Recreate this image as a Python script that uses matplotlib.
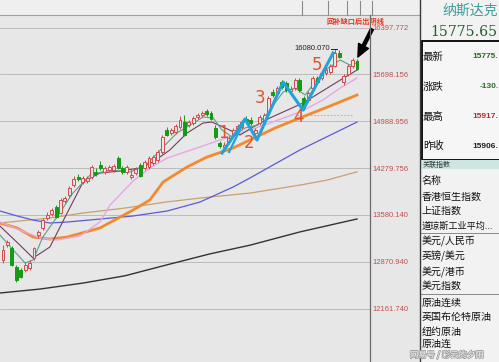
import numpy as np
import matplotlib.pyplot as plt
from matplotlib.patches import Rectangle
import matplotlib.patheffects as pe

plt.rcParams['font.family'] = ['Noto Sans CJK SC', 'DejaVu Sans']

# daily candles (index = trading day)
opens = [12897, 13123, 13078, 12792, 12746, 12746, 12777, 12927, 13274, 13379,
         13530, 13590, 13695, 13605, 13786, 13876, 14027, 14147, 14072, 14087,
         14147, 14222, 14328, 14222, 14252, 14252, 14433, 14283, 14222, 14147,
         14207, 14328, 14283, 14298, 14358, 14403, 14524, 14855, 14810, 14825,
         14900, 14975, 14930, 14960, 15051, 15081, 15141, 15111, 14885, 14659,
         14599, 14674, 14780, 14840, 14900, 15021, 15005, 14810, 14960, 15005,
         15126, 15427, 15412, 15578, 15563, 15442, 15487, 15608, 15337, 15307,
         15487, 15638, 15638, 15713, 15728, 15819, 16014, 15578, 15698, 15819,
         15900]
closes = [13048, 13168, 12822, 12596, 12641, 12822, 12852, 13078, 13319, 13499,
          13575, 13650, 13545, 13801, 13831, 13981, 14117, 14117, 14132, 14132,
          14298, 14192, 14283, 14283, 14298, 14313, 14283, 14222, 14298, 14177,
          14268, 14162, 14373, 14433, 14448, 14524, 14749, 14780, 14855, 14915,
          15005, 14780, 14975, 15036, 15081, 15111, 15096, 15021, 14749, 14614,
          14629, 14734, 14855, 14915, 14975, 14990, 14960, 14855, 15051, 15081,
          15337, 15382, 15487, 15502, 15457, 15472, 15608, 15457, 15186, 15412,
          15638, 15578, 15713, 15758, 15819, 16014, 15954, 15668, 15819, 15906,
          15775.65]
highs = [13123, 13198, 13108, 12822, 12777, 12867, 12897, 13093, 13349, 13530,
         13620, 13680, 13725, 13831, 13861, 14011, 14162, 14192, 14162, 14162,
         14328, 14283, 14388, 14313, 14328, 14343, 14463, 14313, 14328, 14252,
         14298, 14358, 14403, 14463, 14478, 14554, 14780, 14900, 14885, 14945,
         15066, 15081, 15005, 15066, 15111, 15141, 15171, 15141, 14930, 14689,
         14674, 14764, 14885, 14945, 15005, 15066, 15051, 14885, 15081, 15111,
         15367, 15472, 15517, 15608, 15593, 15517, 15638, 15638, 15367, 15442,
         15668, 15668, 15743, 15819, 15849, 16080.07, 16060, 15698, 15849, 15939,
         15917]
lows = [12852, 13093, 12807, 12566, 12626, 12716, 12746, 12897, 13228, 13349,
        13499, 13560, 13530, 13590, 13755, 13846, 13996, 14087, 14042, 14057,
        14117, 14162, 14252, 14192, 14222, 14222, 14268, 14192, 14192, 14117,
        14177, 14147, 14252, 14268, 14328, 14373, 14493, 14764, 14780, 14795,
        14870, 14764, 14900, 14930, 15021, 15051, 15066, 15005, 14719, 14584,
        14554, 14644, 14749, 14810, 14870, 14960, 14930, 14780, 14930, 14975,
        15096, 15352, 15382, 15472, 15427, 15412, 15457, 15427, 15156, 15277,
        15457, 15548, 15608, 15683, 15698, 15804, 15939, 15533, 15668, 15789,
        15758]

# moving averages
ma5_x = [-0.7, 2.3, 5, 6.8, 9, 12.2, 15.8, 19.7, 24.2, 28.7, 32.1, 36.2, 39.3, 42.3, 45.2,
         47.5, 49.5, 51.8, 54.7, 57.6, 60.3, 63.3, 66, 68.3, 70.5, 73.5, 76.2, 78.4, 80]
ma5 = [13274, 13048, 12852, 12897, 13243, 13545, 13906, 14177, 14252, 14222, 14313, 14599, 14810, 14930, 15051,
       15036, 14855, 14749, 14885, 14930, 15156, 15427, 15487, 15382, 15578, 15789, 15909, 15834, 15864]
ma10_x = [-0.7, 3.8, 6.8, 10.6, 14.5, 18.1, 21.9, 26.4, 31, 33.9, 37.7, 41.6, 45.2, 47.2, 50.2,
          53.6, 56.5, 60.3, 67.8, 75.5, 80]
ma10 = [13409, 13123, 12927, 13093, 13605, 14072, 14207, 14237, 14283, 14373, 14554, 14810, 14960, 14975, 14885,
        14780, 14900, 15036, 15261, 15578, 15758]
ma20_x = [-0.7, 3.8, 8.4, 12.2, 17.4, 21.9, 24.2, 29.4, 33.2, 37.1, 44.5, 49, 55.8, 60.3, 67.1, 72.3, 76.2, 80]
ma20 = [13469, 13349, 13228, 13198, 13258, 13469, 13725, 14087, 14283, 14433, 14599, 14704, 14855, 14960,
        15126, 15307, 15487, 15638]
ma30_x = [-0.7, 3.2, 6.8, 10.6, 14.5, 21.9, 29.4, 33.2, 36.2, 41.6, 46.1, 52, 55.8, 61.5, 67.1, 73.9, 80]
ma30 = [13454, 13379, 13243, 13213, 13243, 13379, 13650, 13801, 14072, 14298, 14448, 14584, 14704, 14885,
        15036, 15216, 15382]
ma60_x = [-0.7, 3.2, 6.8, 10.6, 14.5, 21.9, 29.4, 37.1, 44.5, 52, 55.8, 67.1, 80]
ma60 = [13635, 13560, 13499, 13454, 13469, 13514, 13560, 13635, 13770, 13996, 14132, 14554, 14975]
ma120_x = [-0.7, 10.6, 18.1, 27.6, 36.8, 44.5, 55.8, 67.1, 73.2, 80]
ma120 = [13455, 13530, 13605, 13680, 13770, 13830, 13905, 14025, 14100, 14225]
ma250_x = [-0.7, 8.4, 18.1, 27.6, 36.8, 46.8, 55.8, 67.1, 80]
ma250 = [12400, 12460, 12550, 12660, 12820, 12990, 13120, 13320, 13515]

# hand drawn wave count
wave_x = [49.5, 54.7, 57.4, 63.3, 67.8, 74.6]
wave_y = [14508, 15020, 14704, 15578, 15156, 16014]
wave2_x = [51.1, 54.7]
wave2_y = [14524, 15020]
wave_labels = ['1', '2', '3', '4', '5']
wave_lab_x = [49.9, 55.6, 58.1, 66.7, 70.9]
wave_lab_y = [14810, 14660, 15337, 15051, 15834]

tick_vals = [16397.772, 15698.156, 14988.956, 14279.756, 13580.140, 12870.940, 12161.740]
tick_labels = ['%.3f' % v for v in tick_vals]

W, H = 499, 362
BG = '#e7e7e7'
fig = plt.figure(figsize=(W / 100, H / 100), dpi=100)
fig.patch.set_facecolor(BG)

ax = fig.add_axes([0, 0, 370 / W, 347 / H])
ax.set_facecolor(BG)
ax.set_xlim(-0.68, 82.94)
ax.set_ylim(11361, 16587)
for s in ax.spines.values():
    s.set_visible(False)
ax.set_xticks([])
ax.yaxis.tick_right()
ax.set_yticks(tick_vals)
ax.set_yticklabels(tick_labels, fontsize=5.5, color='#c0504d', family='Liberation Sans')
ax.tick_params(axis='y', length=0, pad=2)
for v in tick_vals:
    ax.axhline(v, color='#b4b4b4', lw=0.6, zorder=0)

# moving averages
ax.plot(ma250_x, ma250, color='#333333', lw=1.0, zorder=2)
ax.plot(ma120_x, ma120, color='#c9a06e', lw=0.9, zorder=2)
ax.plot(ma60_x, ma60, color='#5b5bd6', lw=0.9, zorder=2)
ax.plot(ma30_x, ma30, color='#f28a2e', lw=2.0, zorder=2)
ax.plot(ma20_x, ma20, color='#e6a6e6', lw=1.0, zorder=2)
ax.plot(ma10_x, ma10, color='#6e3f62', lw=0.8, zorder=2)
ax.plot(ma5_x, ma5, color='#5a9e88', lw=0.8, zorder=2)

# candles
for i in range(len(opens)):
    o, c, h, l = opens[i], closes[i], highs[i], lows[i]
    up = c >= o
    col = '#d24b4b' if up else '#149a14'
    ax.vlines(i, l, h, color=col, lw=0.7, zorder=3)
    ax.add_patch(Rectangle((i - 0.33, min(o, c)), 0.66, max(abs(c - o), 8),
                           facecolor=BG if up else col, edgecolor=col, lw=0.7, zorder=4))

# wave count
ax.plot(wave_x, wave_y, color='#1fa3d8', lw=2.2, zorder=5)
ax.plot(wave2_x, wave2_y, color='#1fa3d8', lw=1.6, zorder=5)
for t, x, y in zip(wave_labels, wave_lab_x, wave_lab_y):
    ax.text(x, y, t, color='#e0542c', fontsize=12, family='DejaVu Sans',
            ha='center', va='center', zorder=6)

# peak label and annotation
ax.text(73.9, 16080.07, '16080.070', ha='right', va='center', fontsize=5.5,
        family='Liberation Sans', color='#222222', zorder=6)
ax.plot([74.1, 75.4], [16080.07, 16080.07], color='#222222', lw=0.7, zorder=6)
ax.plot([66.4, 79.1], [15081, 15081], color='#a8a8a8', lw=0.6, ls=(0, (2, 2)), zorder=1)
ax.text(73.2, 16496, '回补缺口后出阴线', ha='left', va='center', fontsize=5.2,
        fontweight='bold', color='#e8341c', zorder=7, clip_on=False)
ax.annotate('', xy=(80.2, 15954), xytext=(83.4, 16376), annotation_clip=False,
            arrowprops=dict(facecolor='black', edgecolor='black', width=2.2,
                            headwidth=8, headlength=9, shrink=0), zorder=7)

# overlay for the terminal frame and the quote panel
ov = fig.add_axes([0, 0, 1, 1])
ov.set_xlim(0, W)
ov.set_ylim(H, 0)
ov.axis('off')
ov.patch.set_alpha(0)

ov.add_patch(Rectangle((0, 0), 420, 15, fc='#efefef', ec='none'))
ov.plot([0, 420], [15, 15], color='#a0a0a0', lw=0.8)
for x in [302, 328, 347, 360, 372]:
    ov.plot([x, x], [1, 15], color='#8a8a8a', lw=0.8)
ov.plot([370, 370], [15, H], color='#6a6a6a', lw=0.9)

ov.add_patch(Rectangle((421, 0), 78, H, fc='#f2f2f2', ec='none'))
ov.plot([420.5, 420.5], [0, H], color='#3a3a3a', lw=1.0)
ov.text(442, 11, '纳斯达克', color='#3d9e9a', fontsize=10, ha='left', va='center')
ov.text(430, 32, '15775.65', color='#1f5f2f', fontsize=10.1, family='DejaVu Serif',
        ha='left', va='center')

ov.add_patch(Rectangle((422, 41), 80, 119, fc='#f6f6f6', ec='black', lw=1.3))
rows = ['最新', '涨跌', '最高', '昨收']
row_vals = ['15775.', '-130.', '15917.', '15906.']
row_cols = ['#1f6b1f', '#2a6e2a', '#a83232', '#222222']
row_vx = [472, 480, 472, 472]
row_y = [57, 87, 117, 146]
for r, v, c, vx, y in zip(rows, row_vals, row_cols, row_vx, row_y):
    ov.text(423, y, r, fontsize=7.5, color='#111111', ha='left', va='center')
    ov.text(vx, y, v, fontsize=6, fontweight='bold', family='Liberation Sans',
            color=c, ha='left', va='center')

ov.add_patch(Rectangle((421, 160), 78, 9, fc='#cde6e2', ec='none'))
ov.text(423, 164.5, '关联指数', fontsize=5, color='#333333', ha='left', va='center')
names = ['名称', '香港恒生指数', '上证指数', '道琼斯工业平均...', '美元/人民币', '英镑/美元',
         '美元/港币', '美元指数', '原油连续', '英国布伦特原油', '纽约原油', '原油连']
name_y = [181, 197, 211, 226, 241, 256, 272, 286, 303, 317, 332, 344]
name_fs = [7.2, 7.2, 7.2, 6.6, 7.2, 7.2, 7.2, 7.2, 7.2, 7.2, 7.2, 7.2]
for n, y, fs in zip(names, name_y, name_fs):
    ov.text(422, y, n, fontsize=fs, color='#111111', ha='left', va='center')
for y in [233, 294]:
    ov.plot([421, W], [y, y], color='#8a8a8a', lw=0.7)

ov.text(410, 355, '网易号 / 彩云的夕阳', fontsize=6, color='white', alpha=0.9,
        ha='left', va='center',
        path_effects=[pe.withStroke(linewidth=1.2, foreground='#9a9a9a')])

fig.savefig('out.png', dpi=100, facecolor=fig.get_facecolor())
